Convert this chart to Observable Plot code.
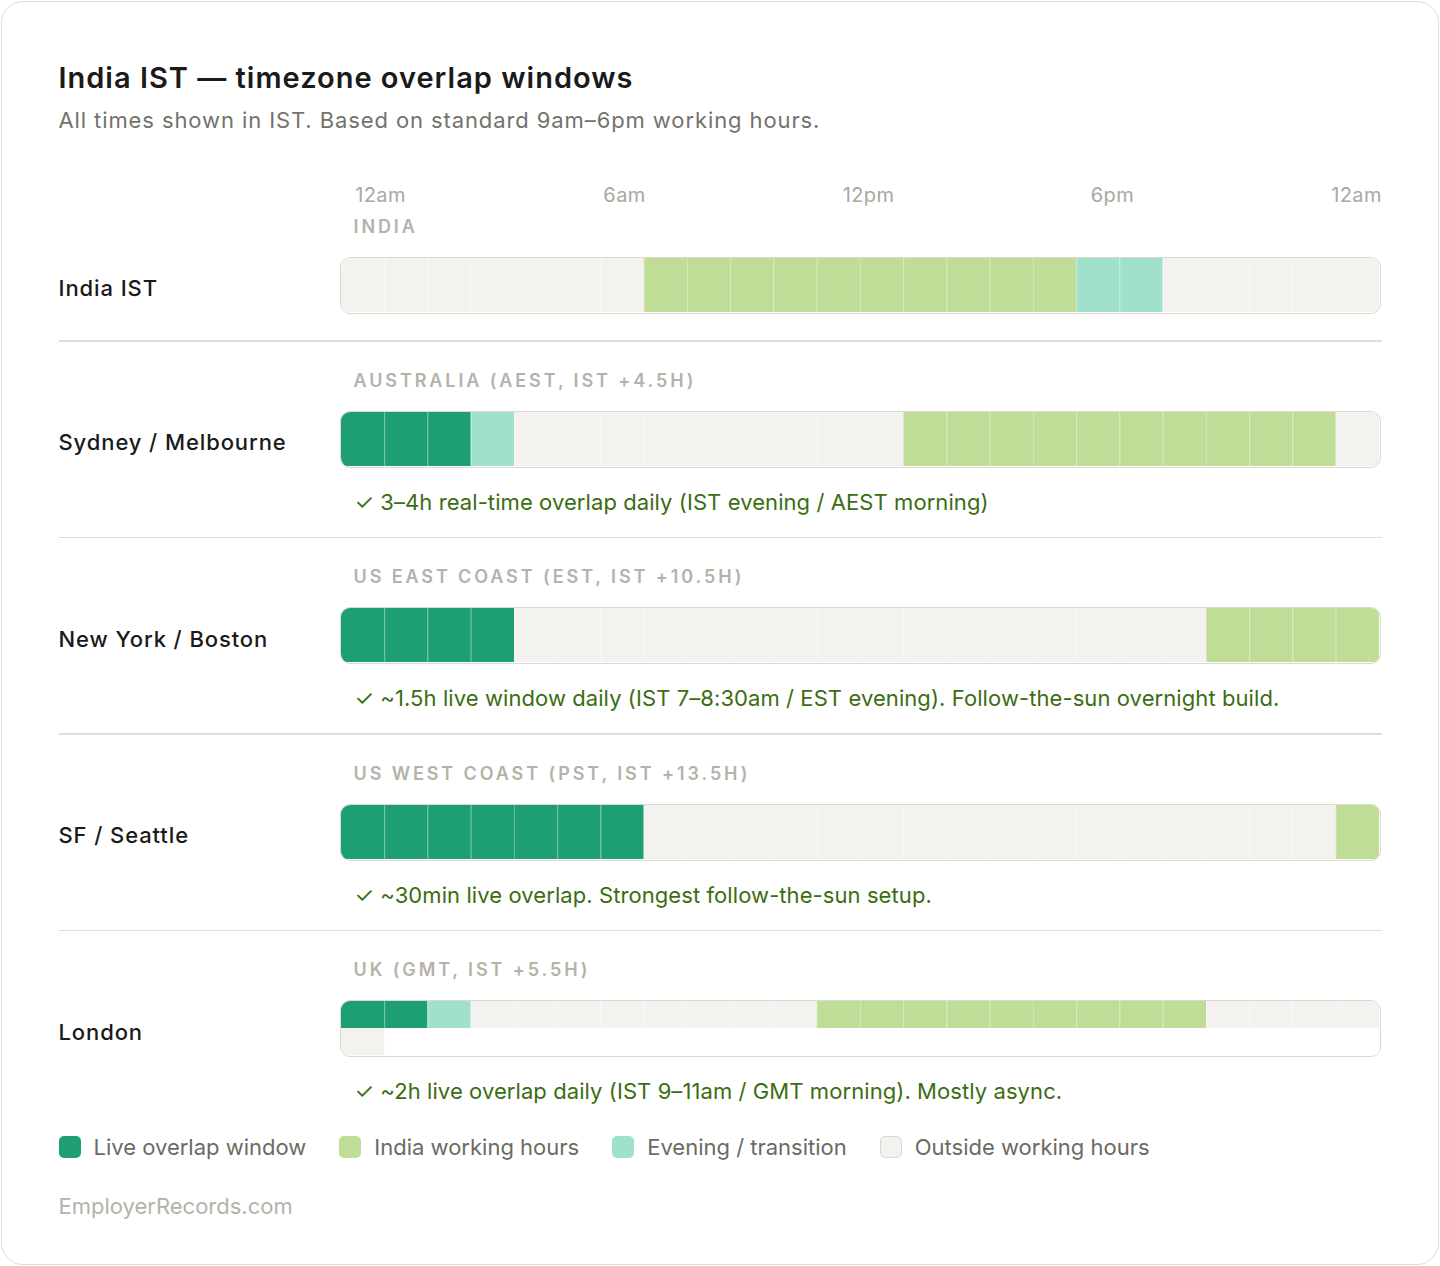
<!DOCTYPE html>
<html>
<head>
<meta charset="utf-8">
<script src="https://cdn.jsdelivr.net/npm/d3@7"></script>
<script src="https://cdn.jsdelivr.net/npm/@observablehq/plot@0.6"></script>
<style>
html, body { margin: 0; padding: 0; background: #fff; }
body { width: 1440px; height: 1266px; position: relative; font-family: Inter, "Noto Sans", sans-serif; }
.card { position: absolute; left: 1px; top: 1px; width: 1438px; height: 1264px; box-sizing: border-box;
  border: 1.5px solid #dfdcd4; border-radius: 22px; padding: 58.5px 56.5px 0 56.5px; }
h1 { margin: 0; font-size: 29px; line-height: 34px; font-weight: 600; color: #1a1a1a; letter-spacing: 1px; }
.sub { margin-top: 12px; font-size: 22px; line-height: 26px; color: #73726c; letter-spacing: 0.9px; }
.header { margin-top: 50px; padding-left: 281px; height: 24px; }
.header svg { display: block; }
.region { padding-left: 295px; font-size: 18px; line-height: 22px; font-weight: 600; letter-spacing: 2.9px; color: #b4b2a9; }
.barline { display: flex; align-items: center; margin-top: 19px; height: 57px; }
.rowlabel { width: 281px; font-size: 22px; font-weight: 500; color: #1a1a1a; letter-spacing: 0.9px; position: relative; top: 3px; }
.barwrap { width: 1041px; height: 57px; box-sizing: border-box; border: 1.5px solid #dcd9d0; border-radius: 10px; overflow: hidden; background: #fff; }
.barwrap svg { display: block; }
.note { margin-top: 21px; padding-left: 296px; font-size: 22px; line-height: 26px; color: #3b6d11; letter-spacing: 0.08px; }
.sep { height: 1.5px; background: #e0ddd6; }
.legend { margin-top: 30px; display: flex; align-items: center; height: 26px; font-size: 22px; color: #6b6a64; }
.legend .item { display: flex; align-items: center; margin-right: 33px; }
.legend .sw { width: 22px; height: 22px; border-radius: 5px; margin-right: 13px; box-sizing: border-box; }
.footer { margin-top: 33px; font-size: 22px; line-height: 26px; color: #b4b2a9; }
</style>
</head>
<body>
<div class="card" id="card">
  <h1 id="title"></h1>
  <div class="sub" id="subtitle"></div>
  <div class="header" id="header"></div>
  <div id="rows"></div>
  <div class="legend" id="legend"></div>
  <div class="footer" id="footer"></div>
</div>
<script>
// ---- data ----
const titleText = "India IST — timezone overlap windows";
const subtitleText = "All times shown in IST. Based on standard 9am–6pm working hours.";
const footerText = "EmployerRecords.com";

const tickHours = [0, 6, 12, 18, 24];
const tickLabels = ["12am", "6am", "12pm", "6pm", "12am"];

const stateCodes = ["L", "W", "E", "O"];
const stateNames = ["Live overlap window", "India working hours", "Evening / transition", "Outside working hours"];
const stateColors = ["#1d9e75", "#c0dd97", "#9fe1cb", "#f3f2ee"];

const rowNames = ["India IST", "Sydney / Melbourne", "New York / Boston", "SF / Seattle", "London"];
const regionLabels = ["INDIA", "AUSTRALIA (AEST, IST +4.5H)", "US EAST COAST (EST, IST +10.5H)", "US WEST COAST (PST, IST +13.5H)", "UK (GMT, IST +5.5H)"];
const rowNotes = [
  null,
  "✓ 3–4h real-time overlap daily (IST evening / AEST morning)",
  "✓ ~1.5h live window daily (IST 7–8:30am / EST evening). Follow-the-sun overnight build.",
  "✓ ~30min live overlap. Strongest follow-the-sun setup.",
  "✓ ~2h live overlap daily (IST 9–11am / GMT morning). Mostly async."
];

// hourly cells, IST 12am → 12am (L live, W India working, E evening, O outside)
const indiaHours  = ["O","O","O","O","O","O","O","W","W","W","W","W","W","W","W","W","W","E","E","O","O","O","O","O"];
const sydneyHours = ["L","L","L","E","O","O","O","O","O","O","O","O","O","W","W","W","W","W","W","W","W","W","W","O"];
const nyHours     = ["L","L","L","L","O","O","O","O","O","O","O","O","O","O","O","O","O","O","O","O","W","W","W","W"];
const sfHours     = ["L","L","L","L","L","L","L","O","O","O","O","O","O","O","O","O","O","O","O","O","O","O","O","W"];
const londonHours = ["L","L","E","O","O","O","O","O","O","O","O","W","W","W","W","W","W","W","W","W","O","O","O","O","O"];
const rowHours = [indiaHours, sydneyHours, nyHours, sfHours, londonHours];

// ---- rendering ----
const FONT = "Inter, 'Noto Sans', sans-serif";
document.getElementById("title").textContent = titleText;
document.getElementById("subtitle").textContent = subtitleText;
document.getElementById("footer").textContent = footerText;

document.getElementById("header").append(Plot.plot({
  width: 1041, height: 24, margin: 0, marginLeft: 39, marginRight: 25,
  style: {fontFamily: FONT, background: "transparent", letterSpacing: "0.4px"},
  x: {type: "point", domain: tickHours, padding: 0, axis: null},
  marks: [
    Plot.text(tickHours, {x: d => d, text: (d, i) => tickLabels[i], fill: "#a9a79f", fontSize: 20, textAnchor: "middle"})
  ]
}));

function barChart(states) {
  const cells = states.map((s, i) => ({state: s, col: i % 24, line: Math.floor(i / 24)}));
  const lines = d3.range(Math.ceil(states.length / 24));
  return Plot.plot({
    width: 1038, height: 54, margin: 0,
    style: {background: "#fff"},
    x: {domain: [0, 24], axis: null},
    y: {type: "band", domain: lines, padding: 0, axis: null},
    color: {domain: stateCodes, range: stateColors},
    marks: [
      Plot.barX(cells, {x1: "col", x2: d => d.col + 1, y: "line", fill: "state", inset: 0}),
      Plot.tickX(cells.filter(d => d.col > 0), {x: "col", y: "line", stroke: "#fff", strokeOpacity: 0.3, strokeWidth: 1})
    ]
  });
}

const rows = document.getElementById("rows");
rowNames.forEach((name, i) => {
  if (i > 0) {
    const sep = document.createElement("div");
    sep.className = "sep";
    sep.style.marginTop = (rowNotes[i - 1] ? 22 : 26.5) + "px";
    rows.append(sep);
  }
  const reg = document.createElement("div");
  reg.className = "region";
  reg.style.marginTop = (i === 0 ? 9 : 28) + "px";
  reg.textContent = regionLabels[i];
  rows.append(reg);

  const line = document.createElement("div");
  line.className = "barline";
  const lab = document.createElement("div");
  lab.className = "rowlabel";
  lab.textContent = name;
  const wrap = document.createElement("div");
  wrap.className = "barwrap";
  wrap.append(barChart(rowHours[i]));
  line.append(lab, wrap);
  rows.append(line);

  if (rowNotes[i]) {
    const note = document.createElement("div");
    note.className = "note";
    note.textContent = rowNotes[i];
    rows.append(note);
  }
});

const legend = document.getElementById("legend");
stateCodes.forEach((c, i) => {
  const item = document.createElement("div");
  item.className = "item";
  const sw = document.createElement("div");
  sw.className = "sw";
  sw.style.background = stateColors[i];
  if (c === "O") sw.style.border = "1.5px solid #dcd9d0";
  const t = document.createElement("span");
  t.textContent = stateNames[i];
  item.append(sw, t);
  legend.append(item);
});
</script>
</body>
</html>
